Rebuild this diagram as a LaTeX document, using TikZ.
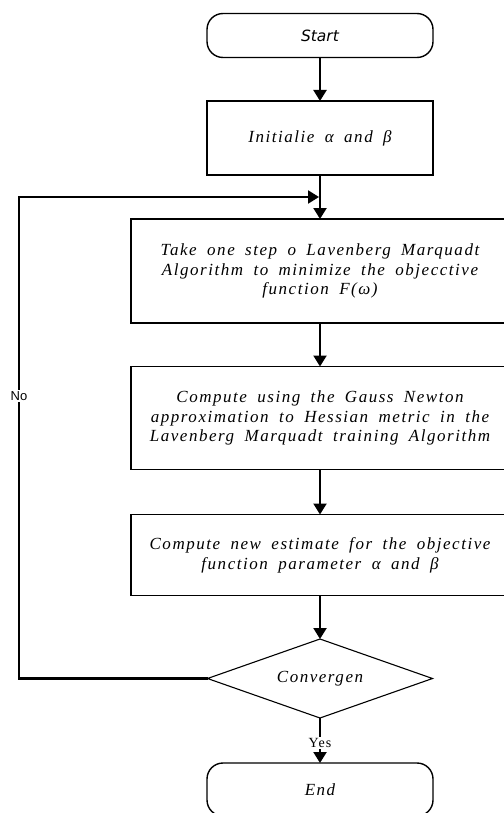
\documentclass[tikz,border=0pt]{standalone}
\usepackage{fontspec}
\setmainfont{Liberation Serif}
\newfontfamily\boxfont{Liberation Serif}[LetterSpace=9,WordSpace=1.8]
\newfontfamily\termfont{DejaVu Sans}
\newfontfamily\labelfont{Liberation Sans}
\usetikzlibrary{shapes.geometric,arrows.meta,positioning}
\tikzset{
  process/.style={
    shape = rectangle,
    draw,
    line width = 1.4pt,
    inner sep = 0pt,
    outer sep = 0pt,
    align = center,
    font = \boxfont\itshape\fontsize{17}{19.7}\selectfont
  },
  terminal/.style={
    shape = rectangle,
    rounded corners = 16pt,
    draw,
    line width = 1.4pt,
    inner sep = 0pt,
    outer sep = 0pt,
    minimum width = 226pt
  },
  decision/.style={
    shape = diamond,
    draw,
    line width = 1.1pt,
    inner sep = 0pt,
    outer sep = 0pt,
    minimum width = 225pt,
    minimum height = 79pt,
    font = \boxfont\itshape\fontsize{17}{19.7}\selectfont
  },
  flow/.style={
    line width = 2.2pt,
    -{Triangle[length=11pt,width=13pt]}
  },
  answer/.style={
    fill = white,
    inner sep = 1pt
  }
}

\begin{document}
\begin{tikzpicture}[x=1pt, y=-1pt]
        \useasboundingbox (0,0) rectangle (503,813);

        \node[terminal, minimum height=44pt, font=\termfont\itshape\fontsize{15.5}{17}\selectfont] (start) at (320,35.5) {Start};
        \node[process, minimum width=226pt, minimum height=74pt] (init) at (320,138) {Initialie α and β};
        \node[process, minimum width=378pt, minimum height=104pt] (step) at (320,271)
            {Take one step o Lavenberg Marquadt\\ Algorithm to minimize the objecctive\\ function F(ω)};
        \node[process, minimum width=378pt, minimum height=103pt] (gauss) at (320,418)
            {Compute using the Gauss Newton\\ approximation to Hessian metric in the\\ Lavenberg Marquadt training Algorithm};
        \node[process, minimum width=378pt, minimum height=81pt] (estimate) at (320,555)
            {Compute new estimate for the objective\\ function parameter α and β};
        \node[decision] (conv) at (320,678.5) {\makebox[0pt]{Convergen}};
        \node[terminal, minimum height=53pt, fill=white, font=\boxfont\itshape\fontsize{17}{19}\selectfont] (end) at (320,789.5) {End};

        \coordinate (loopleft) at (19,197);
        \coordinate (loopin) at (319,197);

        \draw[flow] (start) -- (init);
        \draw[flow] (init) -- (step);
        \draw[flow] (step) -- (gauss);
        \draw[flow] (gauss) -- (estimate);
        \draw[flow] (estimate) -- (conv);
        \draw[flow] (conv) -- (end);
        \draw[flow] (conv.west) -| (loopleft) -- (loopin);

        \node[answer, font=\labelfont\fontsize{13}{15}\selectfont] (no) at (19,396) {No};
        \node[answer, font=\boxfont\fontsize{14}{15}\selectfont] (yes) at (320,743) {Yes};
    \end{tikzpicture}
\end{document}
